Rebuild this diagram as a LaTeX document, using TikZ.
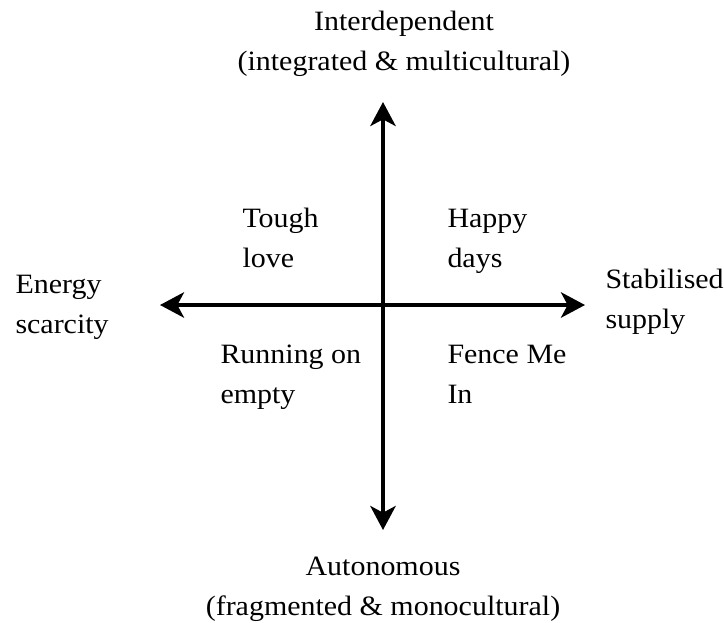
\documentclass[tikz,border=0pt]{standalone}
\usepackage{fontspec}
\setmainfont{Liberation Serif}[FakeStretch=1.07]
\usetikzlibrary{arrows.meta}

\tikzset{every picture/.style={line width=0.75pt}}
\tikzset{
  axisline/.style={line width=3pt, -{Stealth[length=18pt, width=19pt, inset=5pt]}},
  lbl/.style={anchor=base west, inner sep=0pt, align=left, font=\fontsize{21}{30}\selectfont},
  clbl/.style={anchor=base, inner sep=0pt, align=center, font=\fontsize{21}{30}\selectfont}
}

\begin{document}
\begin{tikzpicture}[x=0.75pt,y=0.75pt,yscale=-1,xscale=1]
\useasboundingbox (0,0) rectangle (724,622);

%Axis ends
\coordinate (o) at (383,305);
\coordinate (top) at (383,102);
\coordinate (bottom) at (383,530);
\coordinate (left) at (160,305);
\coordinate (right) at (585,305);

%Straight Lines [vertical]
\draw [axisline] (o) -- (top) ;
\draw [axisline] (o) -- (bottom) ;
%Straight Lines [horizontal]
\draw [axisline] (o) -- (left) ;
\draw [axisline] (o) -- (right) ;

% Text Node
\node (interdep) [clbl] at (404,70) {Interdependent\\(integrated \& multicultural)};
% Text Node
\node (auton) [clbl] at (383,615) {Autonomous\\(fragmented \& monocultural)};
% Text Node
\node (energy) [lbl] at (15,333) {Energy\\scarcity};
% Text Node
\node (stab) [lbl] at (605,328) {Stabilised\\supply};
% Text Node
\node (tough) [lbl] at (242,267) {Tough\\love};
% Text Node
\node (happy) [lbl] at (447,267) {Happy\\days};
% Text Node
\node (running) [lbl] at (220,403) {Running on\\empty};
% Text Node
\node (fence) [lbl] at (447,403) {Fence Me\\In};

\end{tikzpicture}
\end{document}
